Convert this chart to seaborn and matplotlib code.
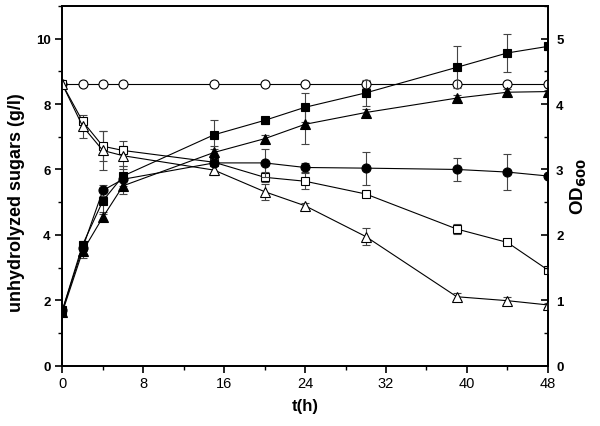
import matplotlib
matplotlib.use("Agg")
import matplotlib.pyplot as plt
from matplotlib.ticker import MultipleLocator
import numpy as np
import pandas as pd
import seaborn as sns

# sampling times (h)
t = [0, 2, 4, 6, 15, 20, 24, 30, 39, 44, 48]

# unhydrolyzed sugars (g/l), left axis
sugar_circle = [8.6, 8.6, 8.6, 8.6, 8.6, 8.6, 8.6, 8.6, 8.6, 8.6, 8.6]
sugar_circle_err = [0, 0, 0, 0, 0, 0, 0, 0.1, 0, 0, 0]
sugar_square = [8.6, 7.47, 6.71, 6.58, 6.22, 5.76, 5.64, 5.25, 4.18, 3.77, 2.93]
sugar_square_err = [0, 0.1, 0.45, 0.3, 0.1, 0.15, 0.25, 0.1, 0.15, 0.08, 0.05]
sugar_triangle = [8.6, 7.32, 6.58, 6.42, 5.98, 5.32, 4.89, 3.95, 2.11, 1.99, 1.86]
sugar_triangle_err = [0, 0.35, 0.6, 0.3, 0.15, 0.25, 0.1, 0.27, 0.1, 0.1, 0.05]

# OD600, right axis
od_circle = [0.85, 1.8, 2.68, 2.85, 3.1, 3.1, 3.03, 3.02, 3.0, 2.96, 2.9]
od_circle_err = [0, 0.05, 0.08, 0.15, 0.05, 0.22, 0.07, 0.25, 0.18, 0.28, 0.03]
od_square = [0.85, 1.85, 2.52, 2.9, 3.53, 3.75, 3.95, 4.17, 4.56, 4.78, 4.88]
od_square_err = [0, 0.05, 0.17, 0.15, 0.22, 0.05, 0.22, 0.2, 0.32, 0.29, 0.05]
od_triangle = [0.82, 1.75, 2.27, 2.75, 3.26, 3.47, 3.69, 3.87, 4.09, 4.18, 4.19]
od_triangle_err = [0, 0.1, 0.05, 0.12, 0.1, 0.05, 0.3, 0.06, 0.05, 0.05, 0.03]

sns.set_theme(style="ticks")
plt.rcParams["font.family"] = ["Liberation Sans", "DejaVu Sans"]
plt.rcParams["text.color"] = "black"
plt.rcParams["axes.labelcolor"] = "black"

fig, ax = plt.subplots(figsize=(6.0, 4.27), dpi=100)
fig.subplots_adjust(left=0.104, right=0.913, top=0.984, bottom=0.141)
ax2 = ax.twinx()


def draw(axis, y, err, marker, filled, ms):
    df = pd.DataFrame({"t": t, "y": y})
    axis.errorbar(t, y, yerr=err, fmt="none", ecolor="#444444",
                  elinewidth=0.8, capsize=3, capthick=0.8, zorder=2)
    sns.lineplot(data=df, x="t", y="y", ax=axis, errorbar=None,
                 color="black", linewidth=0.8, marker=marker,
                 markersize=ms,
                 markerfacecolor="black" if filled else "white",
                 markeredgecolor="black", markeredgewidth=0.8, zorder=3)


draw(ax, sugar_circle, sugar_circle_err, "o", False, 6.5)
draw(ax, sugar_square, sugar_square_err, "s", False, 5.5)
draw(ax, sugar_triangle, sugar_triangle_err, "^", False, 7)
draw(ax2, od_circle, od_circle_err, "o", True, 6.5)
draw(ax2, od_square, od_square_err, "s", True, 5.5)
draw(ax2, od_triangle, od_triangle_err, "^", True, 7)

ax.set_xlim(0, 48)
ax.set_ylim(0, 11)
ax2.set_ylim(0, 5.5)
ax.xaxis.set_major_locator(MultipleLocator(8))
ax.xaxis.set_minor_locator(MultipleLocator(4))
ax.yaxis.set_major_locator(MultipleLocator(2))
ax.yaxis.set_minor_locator(MultipleLocator(1))
ax2.yaxis.set_major_locator(MultipleLocator(1))
ax2.yaxis.set_minor_locator(MultipleLocator(0.5))

for a in (ax, ax2):
    for s in a.spines.values():
        s.set_linewidth(1.3)
        s.set_color("black")

ax.tick_params(axis="both", which="major", direction="out", length=5, width=1.2,
               colors="black")
ax.tick_params(axis="both", which="minor", direction="out", length=3, width=1.0,
               colors="black")
ax.tick_params(axis="x", labelsize=10.5, pad=2)
ax.tick_params(axis="y", labelsize=9.5)
ax2.tick_params(axis="y", which="major", direction="in", length=5, width=1.2,
                labelsize=9.5, colors="black", pad=6)
ax2.tick_params(axis="y", which="minor", direction="in", length=3, width=1.0,
                colors="black")
for lab in ax.get_yticklabels() + ax2.get_yticklabels():
    lab.set_fontweight("bold")

ax.set_xlabel("t(h)", fontsize=12, fontweight="bold", labelpad=6)
ax.set_ylabel("unhydrolyzed sugars (g/l)", fontsize=13, fontweight="bold")
ax.yaxis.set_label_coords(-0.078, 0.455)
ax2.set_ylabel(r"OD$_{\mathbf{600}}$", fontsize=13.5, fontweight="bold",
               labelpad=4)

fig.savefig("out.png", dpi=100)
